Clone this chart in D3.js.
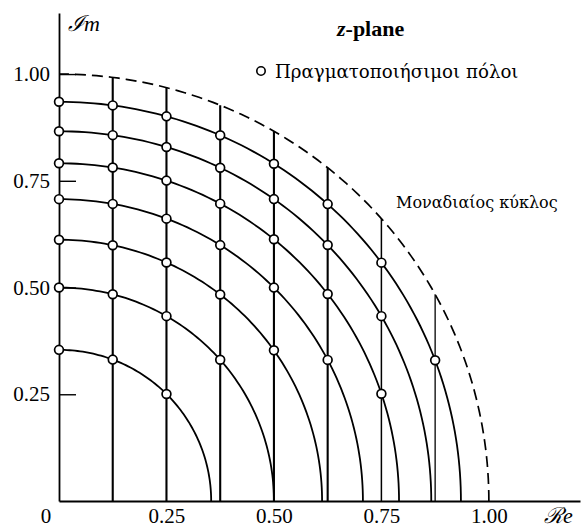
<!DOCTYPE html>
<html>
<head>
<meta charset="utf-8">
<script src="https://cdn.jsdelivr.net/npm/d3@7"></script>
<style>
  html, body { margin: 0; padding: 0; background: #fff; }
  svg { display: block; }
  text { font-family: "Liberation Serif", "DejaVu Serif", serif; fill: #000; }
</style>
</head>
<body>
<svg id="chart" width="581" height="528"></svg>
<script>
// ---- data ----
const circleRadii = [0.354, 0.5, 0.612, 0.707, 0.791, 0.866, 0.935];   // sqrt(k/8)
const gridRe = [0.125, 0.25, 0.375, 0.5, 0.625, 0.75, 0.875];
const poleRe = [0, 0.125, 0.25, 0.375, 0.5, 0.625, 0.75, 0.875];
const yTickValues = [0.25, 0.5, 0.75, 1.0];
const yTickLabels = ["0.25", "0.50", "0.75", "1.00"];
const xTickValues = [0.25, 0.5, 0.75, 1.0];
const xTickLabels = ["0.25", "0.50", "0.75", "1.00"];
const unitRadius = 1.0;
const legendText = "Πραγματοποιήσιμοι πόλοι";
const unitCircleText = "Μοναδιαίος κύκλος";

// ---- scales ----
const svg = d3.select("#chart");
const x = d3.scaleLinear().domain([0, 1.212]).range([59, 580]);
const y = d3.scaleLinear().domain([0, 1.143]).range([501, 13]);

function arcPoints(r) {
  const pts = [];
  const n = 90;
  for (let i = 0; i <= n; i++) {
    const a = (Math.PI / 2) * i / n;
    pts.push([r * Math.cos(a), r * Math.sin(a)]);
  }
  return pts;
}
const line = d3.line().x(d => x(d[0])).y(d => y(d[1]));

// ---- vertical grid lines up to unit circle ----
svg.append("g").selectAll("line").data(gridRe).join("line")
  .attr("x1", d => x(d)).attr("x2", d => x(d))
  .attr("y1", y(0))
  .attr("y2", d => y(Math.sqrt(unitRadius * unitRadius - d * d)))
  .attr("stroke", "#000")
  .attr("stroke-width", d => d > 0.8 ? 1.3 : (d > 0.7 ? 1.5 : 2.1));

// ---- quantized radius arcs ----
svg.append("g").selectAll("path").data(circleRadii).join("path")
  .attr("d", r => line(arcPoints(r)))
  .attr("fill", "none").attr("stroke", "#000").attr("stroke-width", 1.8);

// ---- unit circle dashed ----
svg.append("path")
  .attr("d", line(arcPoints(unitRadius)))
  .attr("fill", "none").attr("stroke", "#000").attr("stroke-width", 1.7)
  .attr("stroke-dasharray", "11,6");

// ---- axes ----
const yAxis = d3.axisLeft(y).tickValues(yTickValues)
  .tickFormat((d, i) => yTickLabels[i]).tickSize(-17).tickSizeOuter(0).tickPadding(9);
const gy = svg.append("g").attr("transform", `translate(${x(0)},0)`).call(yAxis);
gy.select(".domain").attr("stroke-width", 1.8);
gy.selectAll(".tick line").attr("stroke-width", 1.4);
gy.selectAll(".tick text").attr("font-size", 21).style("font-family", "Liberation Serif");

const xAxis = d3.axisBottom(x).tickValues(xTickValues)
  .tickFormat((d, i) => xTickLabels[i]).tickSize(0).tickSizeOuter(0).tickPadding(7);
const gx = svg.append("g").attr("transform", `translate(0,${y(0)})`).call(xAxis);
gx.select(".domain").attr("stroke-width", 1.8);
gx.selectAll(".tick text").attr("font-size", 21).style("font-family", "Liberation Serif");

svg.append("text").attr("x", x(0) - 13).attr("y", 523)
  .attr("text-anchor", "middle").attr("font-size", 21).text("0");

// ---- poles ----
const poles = [];
circleRadii.forEach(r => {
  poleRe.forEach(re => {
    if (re < r) poles.push([re, Math.sqrt(r * r - re * re)]);
  });
});
svg.append("g").selectAll("circle").data(poles).join("circle")
  .attr("cx", d => x(d[0])).attr("cy", d => y(d[1])).attr("r", 4.4)
  .attr("fill", "#fff").attr("stroke", "#000").attr("stroke-width", 1.7);

// ---- labels ----
svg.append("text").attr("x", 68).attr("y", 31).attr("font-size", 22)
  .attr("font-style", "italic").text("ℐm");
svg.append("text").attr("x", 544).attr("y", 523).attr("font-size", 22)
  .attr("font-style", "italic").text("ℛe");

const title = svg.append("text").attr("x", 337).attr("y", 36)
  .attr("font-size", 22).attr("font-weight", "bold");
title.append("tspan").attr("font-style", "italic").text("z");
title.append("tspan").text("-plane");

svg.append("circle").attr("cx", 261).attr("cy", 71).attr("r", 4.2)
  .attr("fill", "#fff").attr("stroke", "#000").attr("stroke-width", 1.6);
svg.append("text").attr("x", 275).attr("y", 78).attr("font-size", 18.2)
  .style("font-family", "DejaVu Serif").text(legendText);

svg.append("text").attr("x", 396).attr("y", 208).attr("font-size", 16)
  .style("font-family", "DejaVu Serif").text(unitCircleText);
</script>
</body>
</html>
